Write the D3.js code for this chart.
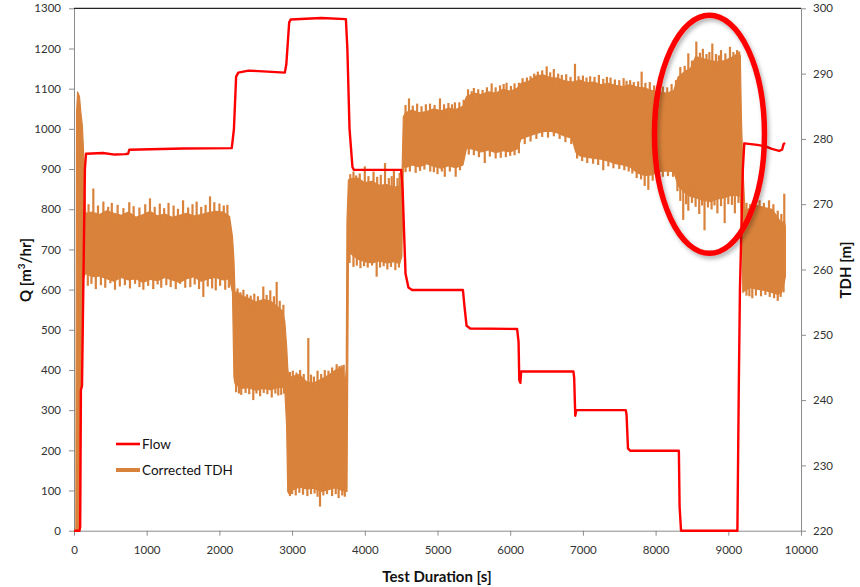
<!DOCTYPE html>
<html>
<head>
<meta charset="utf-8">
<script src="https://cdn.jsdelivr.net/npm/d3@7"></script>
<style>
  html, body { margin: 0; padding: 0; background: #fff; }
  svg { display: block; }
  text { font-family: Lato, "Open Sans", sans-serif; }
</style>
</head>
<body>
<svg id="chart" width="860" height="587"></svg>
<script>
// ---------- DATA ----------
// Flow [m3/hr] versus test time [s]
const flowT = [0, 75, 85, 95, 110, 150, 165, 400, 560, 700, 745, 760, 1500, 2170, 2200, 2230, 2260, 2400, 2600, 2900, 2920, 2960, 2980, 3400, 3740, 3760, 3790, 3830, 3850, 4500, 4520, 4560, 4600, 4650, 5350, 5370, 5400, 5450, 6095, 6115, 6125, 6140, 6150, 6870, 6880, 6895, 6910, 7590, 7600, 7620, 7650, 8320, 8330, 8350, 9125, 9135, 9145, 9160, 9200, 9220, 9400, 9520, 9600, 9700, 9740, 9760, 9780];
const flowQ = [0, 0, 10, 350, 360, 900, 938, 940, 936, 937, 938, 948, 951, 952, 1000, 1130, 1140, 1145, 1143, 1140, 1160, 1265, 1272, 1276, 1273, 1200, 1000, 905, 898, 898, 850, 640, 605, 599, 599, 560, 510, 503, 502, 470, 375, 368, 396, 396, 380, 286, 300, 300, 290, 205, 199, 199, 60, 0, 0, 184, 367, 600, 900, 964, 960, 956, 950, 945, 948, 962, 965];

// Corrected TDH [m]: upper and lower edges of the fast oscillating signal
const tdhT  = [25, 35, 50, 75, 95, 115, 140, 160, 250, 350, 450, 550, 650, 750, 850, 950, 1050, 1150, 1250, 1350, 1450, 1550, 1650, 1750, 1850, 1950, 2050, 2140, 2180, 2200, 2215, 2240, 2300, 2400, 2500, 2600, 2700, 2800, 2870, 2900, 2925, 2940, 2955, 3000, 3100, 3200, 3300, 3400, 3500, 3600, 3700, 3730, 3745, 3755, 3775, 3800, 3900, 4000, 4100, 4200, 4300, 4400, 4480, 4510, 4530, 4560, 4650, 4750, 4850, 4950, 5050, 5150, 5250, 5350, 5400, 5500, 5600, 5700, 5800, 5900, 6000, 6100, 6150, 6250, 6350, 6450, 6550, 6650, 6750, 6850, 6900, 6960, 7050, 7150, 7250, 7350, 7450, 7550, 7650, 7750, 7850, 7950, 8050, 8150, 8250, 8310, 8400, 8480, 8550, 8650, 8750, 8850, 8950, 9050, 9120, 9165, 9180, 9200, 9230, 9300, 9400, 9500, 9600, 9680, 9730, 9770, 9785];
const tdhHi = [220, 284, 287.2, 286.5, 284, 282, 276, 268.6, 268.8, 268.4, 269.0, 268.6, 268.3, 268.8, 268.0, 268.4, 268.9, 268.2, 268.5, 268.0, 268.3, 268.6, 268.2, 268.4, 268.7, 268.9, 268.8, 268.1, 265, 261.5, 256.4, 256.6, 256.0, 255.6, 255.0, 255.4, 255.2, 254.3, 253.6, 252.0, 248.2, 245, 243.3, 243.6, 243.9, 242.8, 242.6, 243.2, 243.8, 244.6, 245.0, 242.2, 245, 267.6, 273.7, 273.9, 274.0, 273.3, 273.5, 272.9, 273.0, 272.6, 272.8, 273.5, 283.4, 284.0, 284.4, 284.0, 284.2, 284.6, 284.3, 284.7, 284.5, 285.0, 286.5, 287.0, 286.8, 287.2, 287.0, 287.6, 287.3, 287.8, 288.5, 288.8, 289.6, 289.8, 289.4, 289.3, 288.9, 288.7, 288.8, 289.0, 288.6, 288.7, 288.3, 288.5, 288.2, 288.0, 288.3, 287.9, 287.8, 287.4, 287.2, 287.0, 287.4, 289.5, 290.3, 290.8, 292.6, 292.3, 292.0, 291.8, 292.0, 292.5, 293.0, 292.8, 283.4, 275.7, 269.0, 269.4, 269.8, 269.5, 269.2, 268.0, 267.0, 267.5, 266.5];
const tdhLo = [220, 220, 220, 221, 240, 258, 259, 259.4, 258.9, 259.0, 258.6, 258.2, 258.8, 258.4, 258.6, 258.0, 258.5, 258.3, 258.8, 258.4, 258.0, 258.6, 258.9, 258.2, 258.6, 258.8, 258.4, 258.6, 256.5, 243.5, 242.5, 242.3, 241.8, 241.9, 241.5, 241.8, 241.6, 241.9, 242.0, 241.5, 236, 226, 225.7, 226.2, 226.7, 226.4, 226.5, 226.0, 226.3, 226.6, 226.1, 226.3, 226, 226, 262.5, 262.5, 261.6, 261.2, 261.0, 261.3, 261.0, 261.2, 260.9, 262, 275.8, 275.6, 276.0, 275.7, 276.2, 275.8, 275.5, 275.9, 275.6, 276.0, 278.6, 278.4, 278.0, 278.3, 277.9, 278.2, 278.0, 278.5, 280.0, 280.4, 280.8, 281.1, 281.2, 280.9, 280.4, 280.1, 278.0, 277.4, 277.2, 277.0, 276.9, 276.6, 276.2, 276.0, 275.7, 274.8, 274.4, 274.5, 275.0, 275.1, 275.0, 272.8, 271.8, 271.2, 271.0, 270.6, 270.4, 270.8, 271.0, 271.4, 271.3, 271.2, 267.6, 256.5, 256.8, 257.2, 257.0, 256.8, 256.5, 256.2, 256.4, 258.0, 259.0];

// Isolated TDH spikes above the band (time, TDH)
const spikeUpT = [200, 266, 330, 404, 470, 520, 600, 680, 760, 820, 900, 980, 1045, 1110, 1180, 1240, 1300, 1370, 1430, 1500, 1570, 1630, 1687, 1750, 1810, 1871, 1930, 2000, 2060, 2110,
  2250, 2290, 2330, 2380, 2430, 2480, 2530, 2604, 2650, 2700, 2750, 2788, 2830, 2880,
  2970, 3010, 3060, 3110, 3160, 3223, 3260, 3300, 3350, 3400, 3450, 3500, 3550, 3613, 3650, 3680, 3710,
  3800, 3844, 3880, 3930, 4000, 4050, 4120, 4170, 4220, 4278, 4330, 4370, 4400, 4450, 4480,
  4560, 4608, 4660, 4720, 4780, 4840, 4897, 4960, 5034, 5090, 5150, 5200, 5240, 5300, 5360, 5420, 5470, 5500, 5560, 5620, 5680, 5745, 5800, 5860, 5910, 5950, 6010, 6060, 6120, 6170, 6230, 6280, 6330, 6380, 6440, 6502, 6550, 6600, 6660, 6710, 6770, 6830, 6891, 6940, 7000, 7050, 7100, 7160, 7220, 7280, 7330, 7380, 7440, 7500, 7560, 7600, 7650, 7700, 7760, 7808, 7860, 7920, 7980, 8040, 8100, 8160, 8220, 8280, 8340, 8400, 8450, 8500, 8560, 8610, 8650, 8700, 8740, 8780, 8830, 8870, 8900, 8960, 9023, 9070, 9120, 9150,
  9250, 9300, 9360, 9430, 9490, 9560, 9620, 9680, 9730, 9770];
const spikeUpV = [270.0, 272.4, 269.8, 270.4, 269.6, 270.2, 269.9, 269.4, 270.3, 269.7, 269.5, 270.0, 270.9, 269.6, 270.1, 269.4, 270.2, 269.8, 269.3, 270.6, 269.5, 270.0, 270.4, 269.6, 269.9, 271.2, 270.3, 270.1, 269.8, 269.9,
  257.1, 256.5, 256.9, 256.2, 256.0, 256.3, 255.9, 257.4, 256.1, 256.8, 255.9, 258.1, 255.2, 254.6,
  244.3, 244.5, 244.2, 244.6, 244.0, 249.5, 243.9, 243.6, 244.5, 244.0, 244.6, 244.5, 245.0, 245.5, 245.2, 245.3, 245.4,
  274.6, 275.0, 274.4, 274.7, 275.8, 274.3, 275.0, 274.2, 274.5, 276.3, 274.0, 274.3, 275.4, 274.0, 274.8,
  285.2, 286.2, 285.1, 285.4, 285.0, 285.3, 285.4, 285.2, 286.2, 285.3, 285.5, 285.3, 285.6, 285.6, 286.0, 287.6, 287.3, 287.8, 287.6, 287.5, 287.9, 288.5, 287.9, 288.2, 288.4, 288.6, 288.1, 288.5, 288.6, 289.3, 289.4, 289.6, 290.0, 290.3, 290.5, 291.1, 290.2, 290.7, 290.0, 289.8, 289.9, 289.5, 291.5, 289.6, 289.7, 289.4, 289.6, 289.5, 289.8, 289.2, 289.5, 289.4, 289.1, 289.0, 289.3, 288.9, 289.0, 288.7, 288.8, 290.3, 288.6, 288.7, 288.2, 288.0, 288.0, 287.9, 288.4, 289.0, 291.0, 291.2, 293.1, 292.0, 294.9, 293.2, 293.8, 293.0, 293.3, 294.6, 293.0, 292.8, 293.6, 293.1, 294.1, 293.3, 293.6, 293.4,
  270.2, 270.0, 270.4, 270.6, 270.2, 270.6, 270.0, 269.0, 268.5, 271.6];
// Isolated TDH spikes below the band (time, TDH)
const spikeDnT = [190, 240, 300, 370, 430, 500, 564, 630, 700, 770, 840, 900, 954, 1020, 1090, 1150, 1200, 1270, 1330, 1400, 1460, 1530, 1600, 1660, 1720, 1779, 1840, 1900, 1950, 2010, 2080, 2130,
  2230, 2270, 2300, 2360, 2410, 2466, 2510, 2560, 2610, 2660, 2720, 2770, 2810, 2850, 2890,
  2970, 3000, 3050, 3100, 3150, 3210, 3260, 3310, 3350, 3384, 3430, 3480, 3550, 3600, 3640, 3690, 3725,
  3790, 3844, 3890, 3940, 3990, 4040, 4100, 4163, 4210, 4260, 4310, 4360, 4420, 4470,
  4560, 4620, 4700, 4760, 4820, 4900, 4950, 5000, 5060, 5100, 5170, 5250, 5310, 5430, 5500, 5570, 5650, 5720, 5800, 5870, 5940, 6000, 6060, 6120, 6200, 6280, 6360, 6440, 6520, 6600, 6680, 6760, 6840, 6920, 6990, 7060, 7140, 7210, 7280, 7350, 7420, 7500, 7570, 7630, 7680, 7740, 7800, 7850, 7900, 7960, 8020, 8100, 8170, 8240, 8300, 8340, 8380, 8420, 8450, 8500, 8550, 8600, 8640, 8673, 8720, 8770, 8810, 8850, 8900, 8950, 9000, 9050, 9090, 9140,
  9250, 9290, 9330, 9380, 9450, 9510, 9570, 9630, 9680, 9720, 9760];
const spikeDnV = [257.5, 257.8, 257.0, 257.6, 257.2, 257.9, 256.9, 257.4, 257.6, 257.1, 257.8, 257.3, 256.9, 257.5, 257.0, 257.7, 257.2, 257.6, 257.3, 257.0, 257.8, 257.2, 257.3, 257.7, 257.0, 255.8, 257.4, 257.1, 256.8, 257.5, 256.9, 257.2,
  241.2, 241.0, 240.8, 241.1, 240.9, 240.0, 241.0, 240.6, 241.1, 240.9, 240.4, 241.0, 240.7, 240.8, 241.0,
  225.3, 225.6, 225.4, 225.8, 225.5, 225.3, 225.6, 225.7, 225.2, 223.7, 225.4, 225.6, 225.3, 225.6, 225.0, 225.4, 225.2,
  261.0, 260.4, 260.6, 260.2, 260.5, 260.3, 260.6, 258.9, 260.3, 260.5, 260.0, 260.4, 259.9, 260.3,
  274.9, 275.0, 274.8, 275.1, 275.3, 275.0, 274.9, 274.6, 275.0, 274.2, 275.0, 274.2, 275.2, 277.6, 277.5, 277.2, 276.3, 277.3, 277.0, 277.1, 277.2, 277.4, 277.5, 277.8, 279.2, 279.6, 280.0, 280.3, 280.2, 280.4, 280.0, 279.5, 279.2, 277.0, 276.6, 276.3, 276.2, 276.0, 275.2, 275.8, 275.5, 275.4, 275.2, 275.0, 274.7, 274.0, 273.8, 272.8, 272.2, 273.6, 274.0, 274.2, 274.3, 274.2, 272.0, 270.5, 267.6, 270.0, 269.0, 270.2, 269.6, 268.5, 269.8, 266.0, 269.5, 269.2, 269.8, 268.6, 269.7, 267.1, 270.0, 269.9, 268.6, 270.2,
  256.0, 255.9, 255.6, 256.0, 255.9, 256.1, 255.8, 255.6, 255.2, 255.8, 256.5];

// Axis ticks and labels
const xTicks = [0, 1000, 2000, 3000, 4000, 5000, 6000, 7000, 8000, 9000, 10000];
const qTicks = [0, 100, 200, 300, 400, 500, 600, 700, 800, 900, 1000, 1100, 1200, 1300];
const tdhTicks = [220, 230, 240, 250, 260, 270, 280, 290, 300];
const seriesNames = ["Flow", "Corrected TDH"];
const xTitle = "Test Duration [s]";
const highlightCenter = { t: 8741, tdh: 280.7 }; // centre of the red annotation ellipse

// ---------- DRAWING ----------
const svg = d3.select("#chart");
const L = 74, R = 801, T = 8.3, B = 530.7;
const x = d3.scaleLinear().domain([0, 10000]).range([L, R]);
const yQ = d3.scaleLinear().domain([0, 1300]).range([B, T]);
const yT = d3.scaleLinear().domain([220, 300]).range([B, T]);

const RED = "#ff0000", ORANGE = "#d9823b", AXIS = "#8c8c8c", LABEL = "#333";

const defs = svg.append("defs");
const f = defs.append("filter").attr("id", "shadow").attr("x", "-20%").attr("y", "-20%").attr("width", "140%").attr("height", "140%");
f.append("feDropShadow").attr("dx", 2).attr("dy", 3).attr("stdDeviation", 2).attr("flood-color", "#000").attr("flood-opacity", 0.3);

// axes
const styleAxis = g => {
  g.select(".domain").attr("stroke", AXIS);
  g.selectAll(".tick line").attr("stroke", AXIS);
  g.selectAll(".tick text").attr("fill", LABEL).attr("font-size", 11.5);
};
svg.append("g").attr("transform", `translate(${L},0)`)
  .call(d3.axisLeft(yQ).tickValues(qTicks).tickFormat(d3.format("d")).tickSize(5).tickSizeOuter(0).tickPadding(8))
  .call(styleAxis);
svg.append("g").attr("transform", `translate(${R},0)`)
  .call(d3.axisRight(yT).tickValues(tdhTicks).tickFormat(d3.format("d")).tickSize(5).tickSizeOuter(0).tickPadding(7))
  .call(styleAxis);
svg.append("g").attr("transform", `translate(0,${B})`)
  .call(d3.axisBottom(x).tickValues(xTicks).tickFormat(d3.format("d")).tickSize(5).tickSizeOuter(0).tickPadding(10))
  .call(styleAxis);
svg.append("line").attr("x1", L).attr("x2", R).attr("y1", T).attr("y2", T).attr("stroke", "#222").attr("stroke-width", 1.2);

// TDH band
const tdhData = tdhT.map((t, i) => ({ t, hi: tdhHi[i], lo: tdhLo[i] }));
svg.append("path").datum(tdhData)
  .attr("d", d3.area().x(d => x(d.t)).y0(d => yT(d.lo)).y1(d => yT(d.hi)))
  .attr("fill", ORANGE).attr("stroke", ORANGE).attr("stroke-width", 1.2).attr("stroke-linejoin", "round");

const edgeAt = (arr, t) => {
  const i = Math.max(1, Math.min(tdhT.length - 1, d3.bisectRight(tdhT, t)));
  const t0 = tdhT[i - 1], t1 = tdhT[i];
  const k = (t - t0) / (t1 - t0);
  return arr[i - 1] + (arr[i] - arr[i - 1]) * k;
};
svg.append("g").selectAll("line").data(spikeUpT).join("line")
  .attr("x1", t => x(t)).attr("x2", t => x(t))
  .attr("y1", (t, i) => yT(spikeUpV[i])).attr("y2", t => yT(edgeAt(tdhHi, t) - 1.5))
  .attr("stroke", ORANGE).attr("stroke-width", 2.2);
svg.append("g").selectAll("line").data(spikeDnT).join("line")
  .attr("x1", t => x(t)).attr("x2", t => x(t))
  .attr("y1", (t, i) => yT(spikeDnV[i])).attr("y2", t => yT(edgeAt(tdhLo, t) + 1.5))
  .attr("stroke", ORANGE).attr("stroke-width", 2.2);

// Flow line
const flowData = flowT.map((t, i) => ({ t, q: flowQ[i] }));
svg.append("path").datum(flowData)
  .attr("d", d3.line().x(d => x(d.t)).y(d => yQ(d.q)))
  .attr("fill", "none").attr("stroke", RED).attr("stroke-width", 2.4).attr("stroke-linejoin", "round");

// Annotation ellipse
svg.append("ellipse")
  .attr("cx", x(highlightCenter.t)).attr("cy", yT(highlightCenter.tdh))
  .attr("rx", 55).attr("ry", 119)
  .attr("fill", "none").attr("stroke", RED).attr("stroke-width", 5.5)
  .attr("filter", "url(#shadow)");

// Legend
const lg = svg.append("g");
const legendY = [444, 470];
const legendColors = [RED, ORANGE];
const legendW = [2.6, 4];
seriesNames.forEach((name, i) => {
  lg.append("line").attr("x1", 116).attr("x2", 140).attr("y1", legendY[i]).attr("y2", legendY[i])
    .attr("stroke", legendColors[i]).attr("stroke-width", legendW[i]);
  lg.append("text").attr("x", 142).attr("y", legendY[i] + 5).attr("font-size", 13.5).attr("fill", "#111").text(name);
});

// Axis titles
svg.append("text").attr("x", 437).attr("y", 582).attr("text-anchor", "middle")
  .attr("font-size", 15).attr("font-weight", "bold").attr("fill", "#111").text(xTitle);
const qt = svg.append("text").attr("transform", "translate(31,270) rotate(-90)").attr("text-anchor", "middle")
  .attr("font-size", 15).attr("font-weight", "bold").attr("fill", "#111");
qt.append("tspan").text("Q [m");
qt.append("tspan").attr("font-size", 10).attr("dy", -6).text("3");
qt.append("tspan").attr("dy", 6).text("/hr]");
svg.append("text").attr("transform", "translate(851,270) rotate(-90)").attr("text-anchor", "middle")
  .attr("font-size", 15).attr("font-weight", "bold").attr("fill", "#111").text("TDH [m]");
</script>
</body>
</html>
